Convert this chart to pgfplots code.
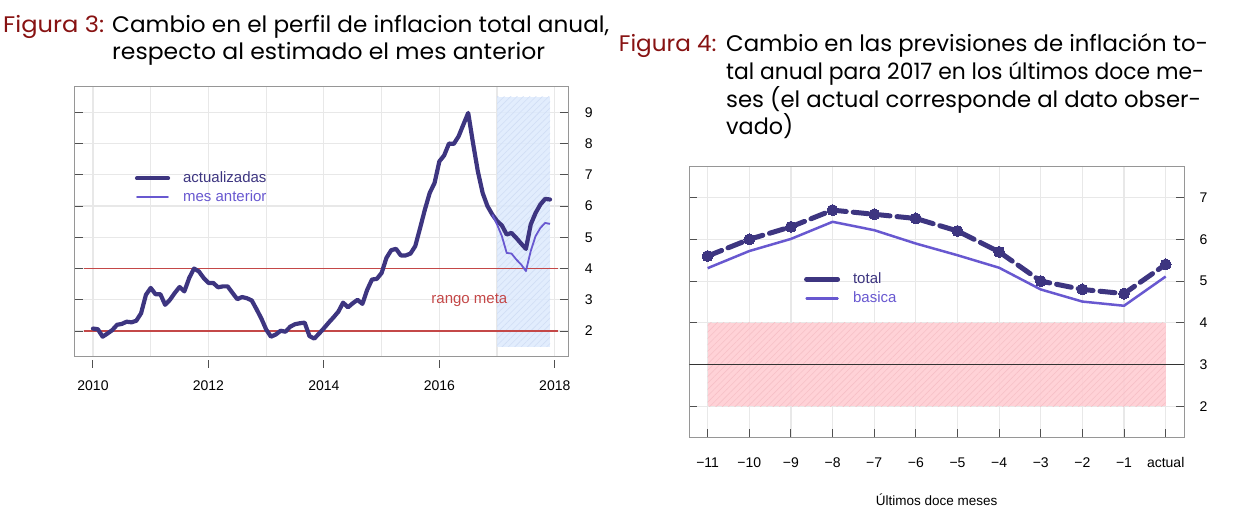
\documentclass[border=0pt]{standalone}
\usepackage{fontspec}
\setmainfont{Liberation Sans}
\newfontfamily\titlefont{Poppins}
\usepackage{graphicx}
\usepackage{pgfplots}
\pgfplotsset{compat=1.18}
\usetikzlibrary{patterns.meta}
\definecolor{dp}{RGB}{61,53,128}
\definecolor{lp}{RGB}{104,88,208}
\definecolor{redc}{RGB}{196,72,72}
\definecolor{figred}{RGB}{135,18,18}
\definecolor{gridc}{RGB}{232,232,232}
\definecolor{framec}{RGB}{150,150,150}
\definecolor{tickc}{RGB}{80,80,80}
\definecolor{bluer}{RGB}{221,234,253}
\definecolor{blueh}{RGB}{208,222,245}
\definecolor{pinkr}{RGB}{255,205,211}
\definecolor{pinkh}{RGB}{247,192,199}
\newcommand\fitw[2]{\resizebox{#1}{\height}{#2}}
\newcommand\tf{\titlefont\fontsize{22.5}{26}\selectfont}

\pgfplotstableread{
x v
2010.000 2.08
2010.083 2.06
2010.167 1.82
2010.250 1.92
2010.333 2.03
2010.417 2.20
2010.500 2.23
2010.583 2.30
2010.667 2.28
2010.750 2.33
2010.833 2.57
2010.917 3.16
2011.000 3.38
2011.083 3.18
2011.167 3.18
2011.250 2.84
2011.333 3.00
2011.417 3.22
2011.500 3.41
2011.583 3.27
2011.667 3.70
2011.750 4.00
2011.833 3.91
2011.917 3.70
2012.000 3.54
2012.083 3.54
2012.167 3.40
2012.250 3.43
2012.333 3.43
2012.417 3.22
2012.500 3.02
2012.583 3.09
2012.667 3.05
2012.750 2.98
2012.833 2.70
2012.917 2.40
2013.000 2.05
2013.083 1.82
2013.167 1.89
2013.250 2.01
2013.333 1.98
2013.417 2.14
2013.500 2.22
2013.583 2.25
2013.667 2.27
2013.750 1.84
2013.833 1.76
2013.917 1.92
2014.000 2.09
2014.083 2.27
2014.167 2.44
2014.250 2.62
2014.333 2.91
2014.417 2.76
2014.500 2.89
2014.583 3.00
2014.667 2.87
2014.750 3.32
2014.833 3.65
2014.917 3.67
2015.000 3.86
2015.083 4.34
2015.167 4.59
2015.250 4.63
2015.333 4.42
2015.417 4.42
2015.500 4.48
2015.583 4.72
2015.667 5.30
2015.750 5.89
2015.833 6.42
2015.917 6.74
2016.000 7.43
2016.083 7.62
2016.167 8.00
2016.250 7.99
2016.333 8.23
2016.417 8.61
2016.500 8.98
2016.583 8.02
2016.667 7.11
2016.750 6.42
2016.833 6.00
2016.917 5.73
2017.000 5.52
2017.083 5.38
2017.167 5.09
2017.250 5.14
2017.333 4.98
2017.417 4.80
2017.500 4.63
2017.583 5.41
2017.667 5.78
2017.750 6.05
2017.833 6.23
2017.917 6.21
}\actualizadas

\pgfplotstableread{
x v
2016.917 5.73
2017.000 5.41
2017.083 5.04
2017.167 4.50
2017.250 4.48
2017.333 4.29
2017.417 4.13
2017.500 3.92
2017.583 4.56
2017.667 5.04
2017.750 5.30
2017.833 5.46
2017.917 5.43
}\mesanterior

\pgfplotstableread{
x v
-11 5.6
-10 6.0
-9 6.3
-8 6.7
-7 6.6
-6 6.5
-5 6.2
-4 5.7
-3 5.0
-2 4.8
-1 4.7
0 5.4
}\total

\pgfplotstableread{
x v
-11 5.31
-10 5.72
-9 6.01
-8 6.42
-7 6.22
-6 5.90
-5 5.62
-4 5.32
-3 4.80
-2 4.51
-1 4.41
0 5.11
}\basica

\pgfplotsset{
  common/.style={
    scale only axis,
    grid=both,
    grid style={color=gridc, line width=1.2pt},
    minor grid style={color=gridc, line width=1.2pt},
    axis line style={color=framec, line width=1pt},
    tick style={color=tickc, line width=1pt},
    major tick length=8pt, minor tick length=0pt,
    tick align=inside,
    xtick pos=left,
    ytick pos=both,
    yticklabel pos=right,
    tick label style={font=\fontsize{14}{16}\selectfont, text=black},
    /pgf/number format/assume math mode=true,
    /pgf/number format/1000 sep={},
    legend cell align=left,
    legend image code/.code={\draw[##1, solid, line cap=round] (0pt,0pt) -- (31pt,0pt);},
    legend style={draw=none, fill=none, inner sep=0pt, outer sep=0pt,
      row sep=3pt, column sep=12pt,
      font=\fontsize{15}{17}\selectfont,
      nodes={inner sep=1pt, text height=11pt, text depth=3pt}},
  }
}

\begin{document}
\begin{tikzpicture}
\useasboundingbox (0pt,0pt) rectangle (1236pt,518pt);

% titles
\node[anchor=base west, inner sep=0pt, text=figred] at (3pt,485.4pt) {\tf\fitw{101pt}{Figura 3:}};
\node[anchor=base west, inner sep=0pt] at (112pt,485.4pt) {\tf\fitw{497pt}{Cambio en el perfil de inflacion total anual,}};
\node[anchor=base west, inner sep=0pt] at (112pt,458.4pt) {\tf\fitw{433pt}{respecto al estimado el mes anterior}};

\node[anchor=base west, inner sep=0pt, text=figred] at (618.7pt,466.2pt) {\tf\fitw{97.6pt}{Figura 4:}};
\node[anchor=base west, inner sep=0pt] at (726pt,466.2pt) {\tf\fitw{482pt}{Cambio en las previsiones de inflación to-}};
\node[anchor=base west, inner sep=0pt] at (726pt,438.4pt) {\tf\fitw{478pt}{tal anual para 2017 en los últimos doce me-}};
\node[anchor=base west, inner sep=0pt] at (726pt,410.6pt) {\tf\fitw{475pt}{ses (el actual corresponde al dato obser-}};
\node[anchor=base west, inner sep=0pt] at (726pt,383pt) {\tf\fitw{67pt}{vado)}};

% ---------- left chart ----------
\begin{axis}[common,
  at={(74.7pt,161.3pt)}, anchor=south west,
  width=493.6pt, height=270pt,
  xmin=2009.683, xmax=2018.234, ymin=1.18, ymax=9.82,
  xtick={2010,2012,2014,2016,2018},
  minor xtick={2011,2013,2015,2017},
  ytick={2,...,9},
  xtick style={yshift=-11pt},
  xticklabel style={yshift=-20pt},
  yticklabel style={xshift=13pt},
  legend style={at={(0.122,0.69)}, anchor=north west},
]
\addplot[draw=none, fill=bluer, fill opacity=0.85,
  postaction={pattern={Lines[angle=45, distance=4.5pt, line width=0.6pt]}, pattern color=blueh}, forget plot]
  coordinates {(2017.0,1.5) (2017.917,1.5) (2017.917,9.5) (2017.0,9.5)} -- cycle;
\addplot[redc, line width=1.4pt, forget plot] coordinates {(2009.85,4) (2018.05,4)};
\addplot[redc, line width=1.4pt, forget plot] coordinates {(2009.85,2) (2018.05,2)};
\addplot[dp, line width=4.2pt, line cap=round, line join=round] table[x=x,y=v] {\actualizadas};
\addlegendentry{\textcolor{dp}{actualizadas}}
\addplot[lp, line width=1.8pt, line join=round] table[x=x,y=v] {\mesanterior};
\addlegendentry{\textcolor{lp}{mes anterior}}
\node[text=redc, font=\fontsize{15}{17}\selectfont] at (axis cs:2016.52,3.0) {rango meta};
\end{axis}

% ---------- right chart ----------
\begin{axis}[common,
  at={(689.3pt,80.7pt)}, anchor=south west,
  width=494.7pt, height=270.6pt,
  xmin=-11.44, xmax=0.44, ymin=1.26, ymax=7.74,
  xtick={-11,-10,-9,-8,-7,-6,-5,-4,-3,-2,-1,0},
  xticklabels={−11,−10,−9,−8,−7,−6,−5,−4,−3,−2,−1,actual},
  ytick={2,...,7},
  xticklabel style={yshift=-17pt},
  yticklabel style={xshift=12pt},
  xlabel={Últimos doce meses},
  xlabel style={at={(axis description cs:0.5,-0.232)}, anchor=center, font=\fontsize{13.5}{16}\selectfont},
  legend style={at={(0.232,0.6135)}, anchor=north west},
]
\addplot[draw=none, fill=pinkr, fill opacity=0.9,
  postaction={pattern={Lines[angle=45, distance=4.5pt, line width=0.6pt]}, pattern color=pinkh}, forget plot]
  coordinates {(-11,2) (0,2) (0,4) (-11,4)} -- cycle;
\addplot[black!80, line width=1.2pt, forget plot] coordinates {(-11.44,3) (0.44,3)};
\addplot[dp, line width=5pt, dash pattern=on 15pt off 7pt, line cap=round, line join=round,
  mark=*, mark size=5.5pt, mark options={solid, fill=dp, draw=dp, line width=0pt}]
  table[x=x,y=v] {\total};
\addlegendentry{\textcolor{dp}{total}}
\addplot[lp, line width=2.5pt, line join=round] table[x=x,y=v] {\basica};
\addlegendentry{\textcolor{lp}{basica}}
\end{axis}
\end{tikzpicture}
\end{document}
